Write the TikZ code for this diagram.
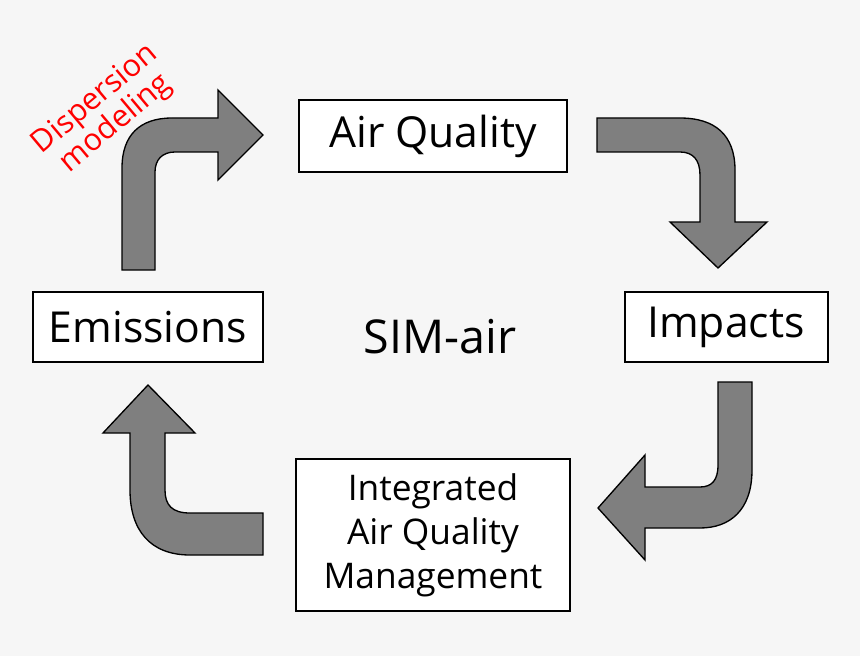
\documentclass[tikz,border=0pt]{standalone}
\usepackage{fontspec}
\setmainfont{Open Sans}
\begin{document}
\begin{tikzpicture}[x=0.75pt,y=-0.75pt,
  box/.style={draw=black,line width=2pt,fill=white,inner sep=0pt},
  arr/.style={draw=black,line width=1pt,fill=arrgray},
  lbl/.style={font=\fontsize{32}{36}\selectfont}]
\definecolor{arrgray}{HTML}{7F7F7F}
\definecolor{bg}{HTML}{F6F6F6}
\fill[bg] (0,0) rectangle (860,656);
\useasboundingbox (0,0) rectangle (860,656);
\draw[box] (299,100) rectangle (567,172);
\node[lbl] (aq) at (433,136) {Air Quality};
\draw[box] (33,292) rectangle (263,362);
\node[lbl] (em) at (148,327) {Emissions};
\draw[box] (625,292) rectangle (828,362);
\node[lbl] (im) at (726,327) {Impacts};
\draw[box] (296,459) rectangle (570,611);
\node[align=center,font=\fontsize{26.5}{33}\selectfont] (iaqm) at (433,535) {Integrated\\Air Quality\\Management};
\node[font=\fontsize{35}{40}\selectfont] (sim) at (440,337) {SIM-air};
\node[text=red,rotate=40,align=center,font=\fontsize{23}{24}\selectfont] (disp) at (106,112) {Dispersion\\modeling};
\draw[arr] (122,270) -- (122,168) .. controls (122,135) and (140,118) .. (172,118) -- (218,118) -- (218,90) -- (263,135) -- (218,180) -- (218,152) -- (175,152) .. controls (162,152) and (155,160) .. (155,172) -- (155,270) -- cycle;
\draw[arr] (597,118) -- (680,118) .. controls (715,118) and (735,135) .. (735,170) -- (735,222) -- (767,222) -- (718,268) -- (670,222) -- (700,222) -- (700,175) .. controls (700,160) and (693,152) .. (680,152) -- (597,152) -- cycle;
\draw[arr] (718,382) -- (752,382) -- (752,470) .. controls (752,510) and (730,528) .. (700,528) -- (645,528) -- (645,560) -- (598,508) -- (645,455) -- (645,487) -- (700,487) .. controls (712,487) and (718,480) .. (718,465) -- cycle;
\draw[arr] (263,513) -- (190,513) .. controls (172,513) and (165,505) .. (165,490) -- (165,433) -- (195,433) -- (148,385) -- (103,433) -- (130,433) -- (130,490) .. controls (130,530) and (150,555) .. (190,555) -- (263,555) -- cycle;
\end{tikzpicture}
\end{document}
